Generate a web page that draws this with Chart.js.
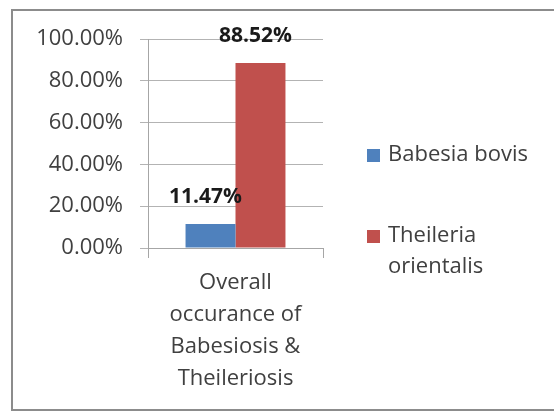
<!DOCTYPE html>
<html lang="en">
<head>
    <meta charset="UTF-8">
    <title>Babesiosis & Theileriosis</title>
    <script src="https://cdn.jsdelivr.net/npm/chart.js"></script>
    <style type="text/css">
        body{
            margin: 0;
            background: #ffffff;
        }
        canvas{
            display: block;
        }
    </style>
</head>
<body>
    <canvas id="myChart" width="554" height="412"></canvas>
    <script>
        // datos
        const categories = [['Overall', 'occurance of', 'Babesiosis &', 'Theileriosis']];
        const seriesLabels = [['Babesia bovis'], ['Theileria', 'orientalis']];
        const babesiaValues = [11.47];
        const theileriaValues = [88.52];
        const yTicks = [0, 20, 40, 60, 80, 100];
        const seriesColors = ['#4f81bd', '#c0504d'];

        const textColor = '#404040';
        const fontFamily = '"Open Sans", sans-serif';

        // marco gris alrededor del grafico
        const framePlugin = {
            id: 'frame',
            beforeDraw(chart) {
                const ctx = chart.ctx;
                ctx.save();
                ctx.strokeStyle = '#8c8c8c';
                ctx.lineWidth = 2;
                ctx.strokeRect(12, 10, 600, 400);
                ctx.restore();
            }
        };

        // etiquetas de valor encima de cada barra
        const valueLabels = {
            id: 'valueLabels',
            afterDatasetsDraw(chart) {
                const ctx = chart.ctx;
                ctx.save();
                ctx.font = 'bold 21px ' + fontFamily;
                ctx.fillStyle = '#1a1a1a';
                ctx.textAlign = 'center';
                ctx.textBaseline = 'middle';
                chart.data.datasets.forEach(function(ds, i) {
                    chart.getDatasetMeta(i).data.forEach(function(bar, j) {
                        ctx.fillText(ds.data[j].toFixed(2) + '%', bar.x - 5, bar.y - 27);
                    });
                });
                ctx.restore();
            }
        };

        // leyenda a la derecha (con salto de linea)
        const sideLegend = {
            id: 'sideLegend',
            afterDraw(chart) {
                const ctx = chart.ctx;
                const startY = [155, 236];
                const lineH = 31;
                ctx.save();
                ctx.font = '22px ' + fontFamily;
                ctx.textBaseline = 'middle';
                ctx.textAlign = 'left';
                seriesLabels.forEach(function(lines, i) {
                    ctx.fillStyle = seriesColors[i];
                    ctx.fillRect(367, startY[i] - 6, 13, 13);
                    ctx.fillStyle = textColor;
                    lines.forEach(function(t, k) {
                        ctx.fillText(t, 388, startY[i] + k * lineH);
                    });
                });
                ctx.restore();
            }
        };

        const data = {
            labels: categories,
            datasets: [{
                label: seriesLabels[0].join(' '),
                data: babesiaValues,
                backgroundColor: seriesColors[0]
            },
            {
                label: seriesLabels[1].join(' '),
                data: theileriaValues,
                backgroundColor: seriesColors[1]
            }]
        };

        const config = {
            type: 'bar',
            data: data,
            options: {
                responsive: false,
                animation: false,
                devicePixelRatio: 1,
                datasets: {
                    bar: {
                        categoryPercentage: 0.571,
                        barPercentage: 1.0
                    }
                },
                layout: {
                    padding: { top: 39, right: 231, bottom: 0, left: 0 }
                },
                plugins: {
                    legend: { display: false },
                    tooltip: { enabled: false }
                },
                scales: {
                    x: {
                        offset: true,
                        grid: {
                            offset: true,
                            drawOnChartArea: false,
                            drawTicks: true,
                            tickLength: 10,
                            color: '#a6a6a6'
                        },
                        border: { color: '#a6a6a6' },
                        ticks: {
                            color: textColor,
                            padding: 9,
                            maxRotation: 0,
                            font: { family: fontFamily, size: 22, lineHeight: 1.45 }
                        },
                        afterFit: function(scale) {
                            scale.height = 164;
                        }
                    },
                    y: {
                        min: 0,
                        max: 100,
                        afterBuildTicks: function(scale) {
                            scale.ticks = yTicks.map(function(v) { return { value: v }; });
                        },
                        grid: {
                            color: '#b3b3b3',
                            drawTicks: true,
                            tickLength: 8
                        },
                        border: { color: '#a6a6a6' },
                        ticks: {
                            color: textColor,
                            padding: 17,
                            font: { family: fontFamily, size: 22 },
                            callback: function(v) { return v.toFixed(2) + '%'; }
                        },
                        afterFit: function(scale) {
                            scale.width = 148;
                        }
                    }
                }
            },
            plugins: [framePlugin, valueLabels, sideLegend]
        };

        const myChart = new Chart(
            document.getElementById('myChart'),
            config
        );
    </script>
</body>
</html>
